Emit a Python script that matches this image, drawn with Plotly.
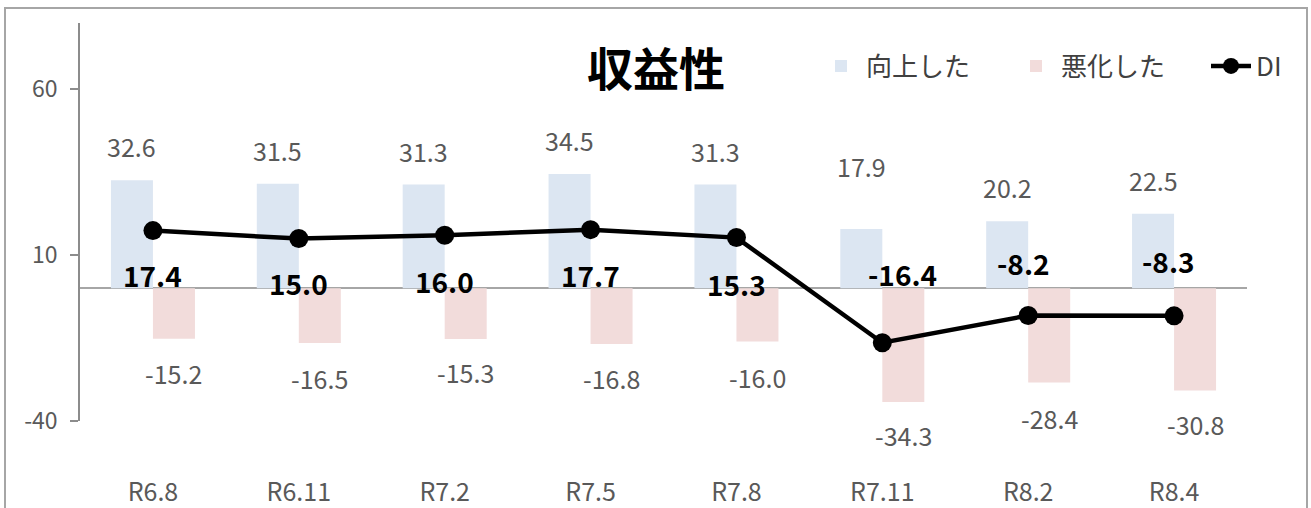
import plotly.graph_objects as go

# ---- data ----
categories = ["R6.8", "R6.11", "R7.2", "R7.5", "R7.8", "R7.11", "R8.2", "R8.4"]
improved = [32.6, 31.5, 31.3, 34.5, 31.3, 17.9, 20.2, 22.5]
worsened = [-15.2, -16.5, -15.3, -16.8, -16.0, -34.3, -28.4, -30.8]
di = [17.4, 15.0, 16.0, 17.7, 15.3, -16.4, -8.2, -8.3]
y_ticks = [60, 10, -40]

# ---- layout / style ----
W, H = 1311, 508
ML, MR, MT, MB = 80, 64, 23, 87
PW, PH = W - ML - MR, H - MT - MB
BARGAP = 0.424
FONT = "Noto Sans CJK JP"
GRAY = "#595959"
BLUE = "#DCE6F2"
PINK = "#F2DCDB"
AXIS = "#8C8C8C"

cat_w = PW / len(categories)
bar_off = cat_w * (1 - BARGAP) / 4  # half of a bar width

# label offsets (px), purely stylistic
up_lift = [34, 34, 34, 34, 34, 63, 34, 34]
down_drop = [34, 35, 33, 34, 36, 33, 35, 34]
di_dy = [-44, -44, -46, -45, -46, 69, 53, 55]
di_dx = [0, 0, 0, 0, 0, 20, -5, -6]

fig = go.Figure()
fig.add_trace(go.Bar(x=categories, y=improved, name="向上した",
                     marker=dict(color=BLUE, line=dict(width=0))))
fig.add_trace(go.Bar(x=categories, y=worsened, name="悪化した",
                     marker=dict(color=PINK, line=dict(width=0))))
fig.add_trace(go.Scatter(x=categories, y=di, name="DI", mode="lines+markers",
                         line=dict(color="black", width=4.5),
                         marker=dict(color="black", size=19)))

ann = []
for i, c in enumerate(categories):
    ann.append(dict(x=c, y=improved[i], text=f"{improved[i]:.1f}", showarrow=False,
                    xshift=-bar_off, yshift=up_lift[i], yanchor="middle",
                    font=dict(family=FONT, size=25, color=GRAY)))
    ann.append(dict(x=c, y=worsened[i], text=f"{worsened[i]:.1f}", showarrow=False,
                    xshift=bar_off, yshift=-down_drop[i], yanchor="middle",
                    font=dict(family=FONT, size=25, color=GRAY)))
    ann.append(dict(x=c, y=di[i], text=f"{di[i]:.1f}", showarrow=False,
                    xshift=di_dx[i], yshift=di_dy[i], yanchor="middle",
                    font=dict(family=FONT, size=28, color="black", weight="bold")))

ann.append(dict(xref="paper", yref="paper", x=(656 - ML) / PW, y=(H - MB - 66) / PH,
                text="収益性", showarrow=False, xanchor="center", yanchor="middle",
                font=dict(family=FONT, size=46, color="black", weight="bold")))

fig.update_layout(
    width=W, height=H,
    margin=dict(l=ML, r=MR, t=MT, b=MB, autoexpand=False),
    paper_bgcolor="white", plot_bgcolor="white",
    barmode="group", bargap=BARGAP, bargroupgap=0,
    font=dict(family=FONT, color=GRAY),
    showlegend=True,
    legend=dict(orientation="h", x=(816 - ML) / PW, xanchor="left",
                y=(H - MB - 66) / PH, yanchor="middle",
                font=dict(family=FONT, size=26, color="#404040"),
                bgcolor="rgba(0,0,0,0)", itemwidth=40, traceorder="normal",
                entrywidth=140),
    annotations=ann,
    shapes=[dict(type="rect", xref="paper", yref="paper",
                 x0=(5 - ML) / PW, x1=(1307 - ML) / PW,
                 y0=-0.4, y1=(H - MB - 8) / PH,
                 line=dict(color="#A6A6A6", width=2), fillcolor="rgba(0,0,0,0)",
                 layer="below")],
    xaxis=dict(type="category", showline=False, showgrid=False, zeroline=False,
               ticks="outside", ticklen=49, tickcolor="rgba(0,0,0,0)",
               tickfont=dict(family=FONT, size=25, color=GRAY)),
    yaxis=dict(range=[-40, 80], tickvals=y_ticks,
               ticktext=[str(v) for v in y_ticks], showgrid=False,
               zeroline=True, zerolinecolor="#A6A6A6", zerolinewidth=1.5,
               showline=True, linecolor=AXIS, linewidth=1.5,
               ticks="outside", ticklen=8, tickcolor=AXIS, tickwidth=1.5,
               ticklabelstandoff=8,
               tickfont=dict(family=FONT, size=23, color=GRAY)),
)

fig.write_html("out.html", config={"displayModeBar": False},
               post_script="document.body.style.margin='0';")
